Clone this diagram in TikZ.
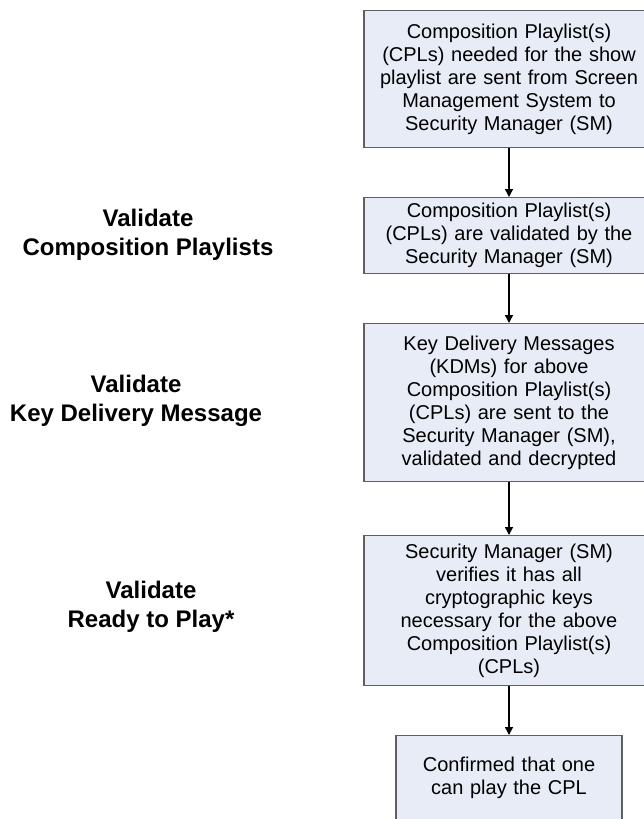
\documentclass[tikz,border=0pt]{standalone}
\usepackage{fontspec}
\setmainfont{Liberation Sans}
\usetikzlibrary{arrows.meta}
\definecolor{boxfill}{RGB}{231, 236, 247}
\definecolor{boxline}{RGB}{95, 95, 95}

\begin{document}
\begin{tikzpicture}[x=1pt, y=-1pt,
    stepbox/.style={draw=boxline, fill=boxfill, line width=1.4pt, align=center, anchor=north,
                    inner xsep=0pt, inner ysep=0pt, font=\fontsize{20}{23}\selectfont},
    phase/.style={align=center, font=\fontsize{24}{29}\selectfont\bfseries},
    flow/.style={-{Triangle[length=8pt, width=8pt]}, line width=1.4pt}]
            \useasboundingbox (0,0) rectangle (644,819);
            \clip (0,0) rectangle (644,819);
            % steps on the right
            \node[stepbox, text width=290pt, minimum height=137pt] (sent)  at (509, 10)
                 {Composition Playlist(s)\\(CPLs) needed for the show\\playlist are sent from Screen\\Management System to\\Security Manager (SM)};
            \node[stepbox, text width=290pt, minimum height=76pt]  (check) at (509,197)
                 {Composition Playlist(s)\\(CPLs) are validated by the\\Security Manager (SM)};
            \node[stepbox, text width=290pt, minimum height=158pt] (kdms)  at (509,323)
                 {Key Delivery Messages\\(KDMs) for above\\Composition Playlist(s)\\(CPLs) are sent to the\\Security Manager (SM),\\validated and decrypted};
            \node[stepbox, text width=290pt, minimum height=150pt] (keys)  at (509,535)
                 {Security Manager (SM)\\verifies it has all\\cryptographic keys\\necessary for the above\\Composition Playlist(s)\\(CPLs)};
            \node[stepbox, text width=226pt, text height=36pt, text depth=100pt] (play) at (509,735)
                 {Confirmed that one\\can play the CPL};
            % arrows between steps
            \draw[flow] (sent.south)  -- (check.north);
            \draw[flow] (check.south) -- (kdms.north);
            \draw[flow] (kdms.south)  -- (keys.north);
            \draw[flow] (keys.south)  -- (play.north);
            % phase names on the left
            \node[phase] (cplphase)   at (148,235) {Validate\\Composition Playlists};
            \node[phase] (kdmphase)   at (136,401) {Validate\\Key Delivery Message};
            \node[phase] (readyphase) at (151,607) {Validate\\Ready to Play*};
\end{tikzpicture}
\end{document}
